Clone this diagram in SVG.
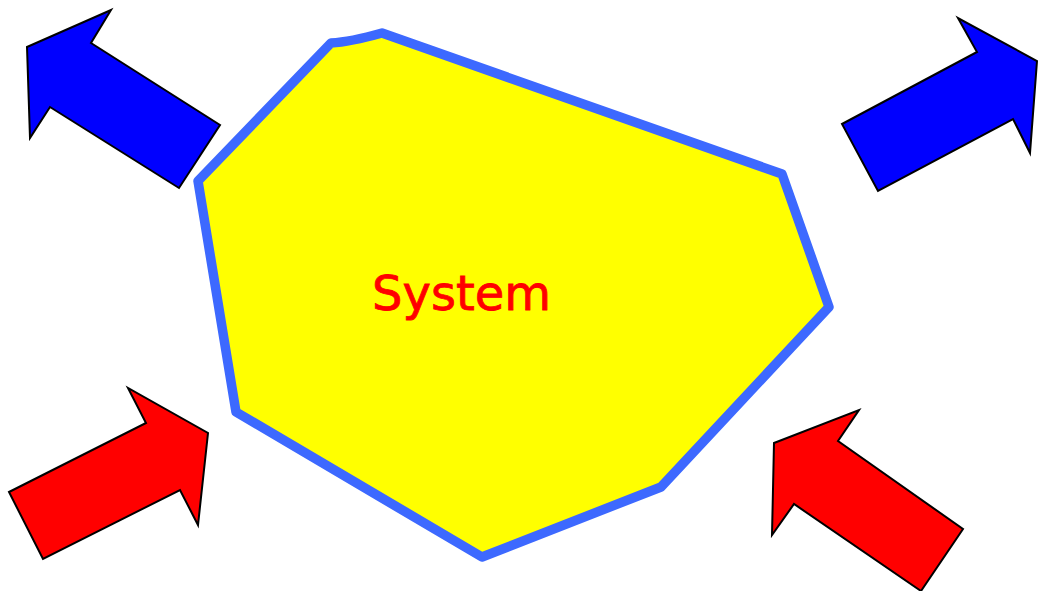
<svg xmlns="http://www.w3.org/2000/svg" width="1038" height="591" viewBox="0 0 1038 591">
<style>
.blue{fill:#0000ff;stroke:#000;stroke-width:2;stroke-linejoin:miter}
.red{fill:#ff0000;stroke:#000;stroke-width:2;stroke-linejoin:miter}
.sys{fill:#ffff00;stroke:#3d69ff;stroke-width:9.5;stroke-linejoin:round}
.lbl{font-family:"Comic Sans MS","DejaVu Sans",sans-serif;font-size:48px;fill:#ff0000;stroke:#ff0000;stroke-width:0.8}
</style>
<rect width="1038" height="591" fill="#fff"/>
<g id="system">
<path class="sys" d="M331,43 Q350,42 382,33 L782,174 L829,307 L661,487 L482,557 L236,412 L198,181 Z"/>
<text class="lbl" x="372" y="310" textLength="179" lengthAdjust="spacingAndGlyphs">System</text>
</g>
<g id="arrow-top-left">
<polygon class="blue" points="27,47 111,10 91,43 220,125 179,188 50,107 30,138"/>
</g>
<g id="arrow-top-right">
<polygon class="blue" points="842,124 977,52 958,18 1037,61 1030,153 1013,119 878,191"/>
</g>
<g id="arrow-bottom-left">
<polygon class="red" points="9,492 146,423 128,388 208,433 198,525 180,490 43,559"/>
</g>
<g id="arrow-bottom-right">
<polygon class="red" points="774,443 859,410 838,441 963,529 921,591 794,504 772,535"/>
</g>
<g id="connectors"/>
</svg>
